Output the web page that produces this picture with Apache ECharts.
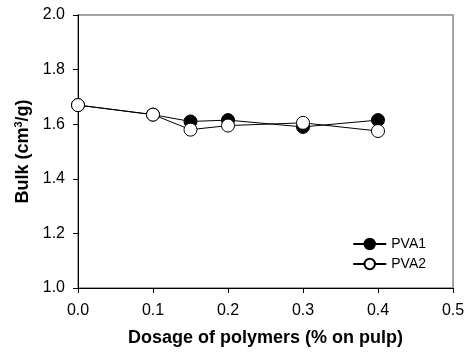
<!DOCTYPE html>
<html><head><meta charset="utf-8">
<script src="https://cdn.jsdelivr.net/npm/echarts@6/dist/echarts.min.js"></script>
<style>html,body{margin:0;padding:0;background:#fff}#c{width:475px;height:356px}</style>
</head><body><div id="c"></div>
<script>
const dosage = [0, 0.1, 0.15, 0.2, 0.3, 0.4];
const pva1 = [1.67, 1.635, 1.61, 1.615, 1.59, 1.615];
const pva2 = [1.67, 1.635, 1.58, 1.595, 1.605, 1.575];
const seriesNames = ['PVA1', 'PVA2'];
const xTitle = 'Dosage of polymers (% on pulp)';

const font = 'Liberation Sans, Arial, sans-serif';
const chart = echarts.init(document.getElementById('c'));
chart.setOption({
  animation: false,
  grid: {left: 78, right: 22, top: 15, bottom: 68, show: true, borderColor: '#888', borderWidth: 1.5},
  legend: {
    data: seriesNames, orient: 'vertical', right: 44, top: 232,
    itemWidth: 33, itemHeight: 13, itemGap: 6,
    textStyle: {fontFamily: font, fontSize: 14, color: '#000'}
  },
  xAxis: {
    type: 'value', min: 0, max: 0.5, interval: 0.1,
    name: xTitle, nameLocation: 'middle', nameGap: 41,
    nameTextStyle: {fontFamily: font, fontSize: 18, fontWeight: 'bold', color: '#000'},
    axisLine: {lineStyle: {color: '#000'}},
    axisTick: {show: true, length: 5, lineStyle: {color: '#000'}},
    axisLabel: {fontFamily: font, fontSize: 16, color: '#000', margin: 15, formatter: v => v.toFixed(1)},
    splitLine: {show: false}
  },
  yAxis: {
    type: 'value', min: 1.0, max: 2.0, interval: 0.2,
    name: '{a|Bulk (cm}{s|3}{a|/g)}', nameLocation: 'middle', nameGap: 46, nameRotate: 90,
    nameTextStyle: {rich: {
      a: {fontFamily: font, fontSize: 18, fontWeight: 'bold', color: '#000'},
      s: {fontFamily: font, fontSize: 11, fontWeight: 'bold', color: '#000', verticalAlign: 'top', padding: [0,0,7,0]}
    }},
    axisLine: {show: true, lineStyle: {color: '#000'}},
    axisTick: {show: true, length: 5, lineStyle: {color: '#000'}},
    axisLabel: {fontFamily: font, fontSize: 16, color: '#000', margin: 13, formatter: v => v.toFixed(1)},
    splitLine: {show: false}
  },
  series: [
    {name: seriesNames[0], type: 'line', data: dosage.map((x, i) => [x, pva1[i]]),
     symbol: 'circle', symbolSize: 13,
     lineStyle: {color: '#000', width: 1},
     itemStyle: {color: '#000', borderColor: '#000', borderWidth: 1}},
    {name: seriesNames[1], type: 'line', data: dosage.map((x, i) => [x, pva2[i]]),
     symbol: 'circle', symbolSize: 13,
     lineStyle: {color: '#000', width: 1},
     itemStyle: {color: '#fff', borderColor: '#000', borderWidth: 1}}
  ]
});
</script></body></html>
